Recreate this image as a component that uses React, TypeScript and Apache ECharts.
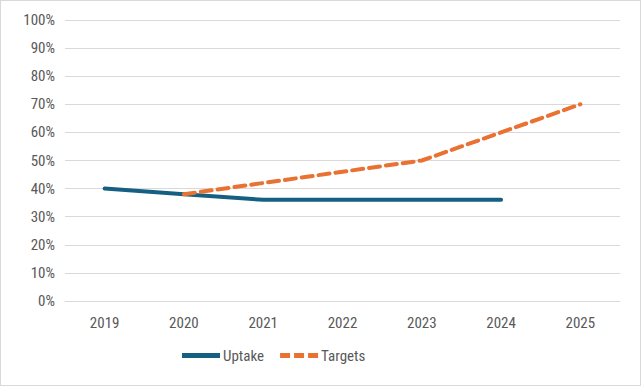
import React, { useEffect, useRef } from "react";
import * as echarts from "echarts";

const categories = ["2019", "2020", "2021", "2022", "2023", "2024", "2025"];
const uptake = [40, 38, 36, 36, 36, 36, null];
const targets = [null, 38, 42, 46, 50, 60, 70];
const yTicks = { min: 0, max: 100, interval: 10 };

const FONT = "'Liberation Sans Narrow', 'Roboto Condensed', 'Arial Narrow', Roboto, sans-serif";

export default function App() {
  const ref = useRef<HTMLDivElement>(null);
  useEffect(() => {
    if (!ref.current) return;
    const chart = echarts.init(ref.current, undefined, { renderer: "svg" });
    chart.setOption({
      animation: false,
      backgroundColor: "#ffffff",
      textStyle: { fontFamily: FONT },
      grid: { left: 64, right: 20, top: 19, bottom: 84, containLabel: false },
      xAxis: {
        type: "category",
        data: categories,
        boundaryGap: true,
        axisLine: { show: true, lineStyle: { color: "#D9D9D9", width: 1 } },
        axisTick: { show: false },
        axisLabel: { color: "#595959", fontSize: 15, margin: 14, fontFamily: FONT },
      },
      yAxis: {
        type: "value",
        min: yTicks.min,
        max: yTicks.max,
        interval: yTicks.interval,
        axisLine: { show: false },
        axisTick: { show: false },
        splitLine: { lineStyle: { color: "#D9D9D9", width: 1 } },
        axisLabel: { color: "#595959", fontSize: 15, margin: 10, formatter: "{value}%", fontFamily: FONT },
      },
      legend: {
        bottom: 17,
        left: 176,
        itemWidth: 38,
        itemHeight: 5,
        itemGap: 16,
        textStyle: { color: "#595959", fontSize: 15, fontFamily: FONT, padding: [0, 0, 0, -2] },
        data: [
          { name: "Uptake", icon: "path://M0,0H38V5H0Z", itemStyle: { color: "#156082" } },
          {
            name: "Targets",
            icon: "path://M0,0h10v5h-10z M14,0h10v5h-10z M28,0h10v5h-10z",
            itemStyle: { color: "#E97132" },
          },
        ],
      },
      series: [
        {
          name: "Uptake",
          type: "line",
          data: uptake,
          symbol: "none",
          lineStyle: { color: "#156082", width: 4, cap: "round" },
          itemStyle: { color: "#156082" },
        },
        {
          name: "Targets",
          type: "line",
          data: targets,
          symbol: "none",
          lineStyle: { color: "#E97132", width: 4, type: [11, 6], cap: "round" },
          itemStyle: { color: "#E97132" },
        },
      ],
    });
    return () => chart.dispose();
  }, []);
  return (
    <div
      ref={ref}
      style={{
        position: "fixed",
        left: 0,
        top: 0,
        width: 641,
        height: 386,
        boxSizing: "border-box",
        border: "1px solid #D9D9D9",
      }}
    />
  );
}
